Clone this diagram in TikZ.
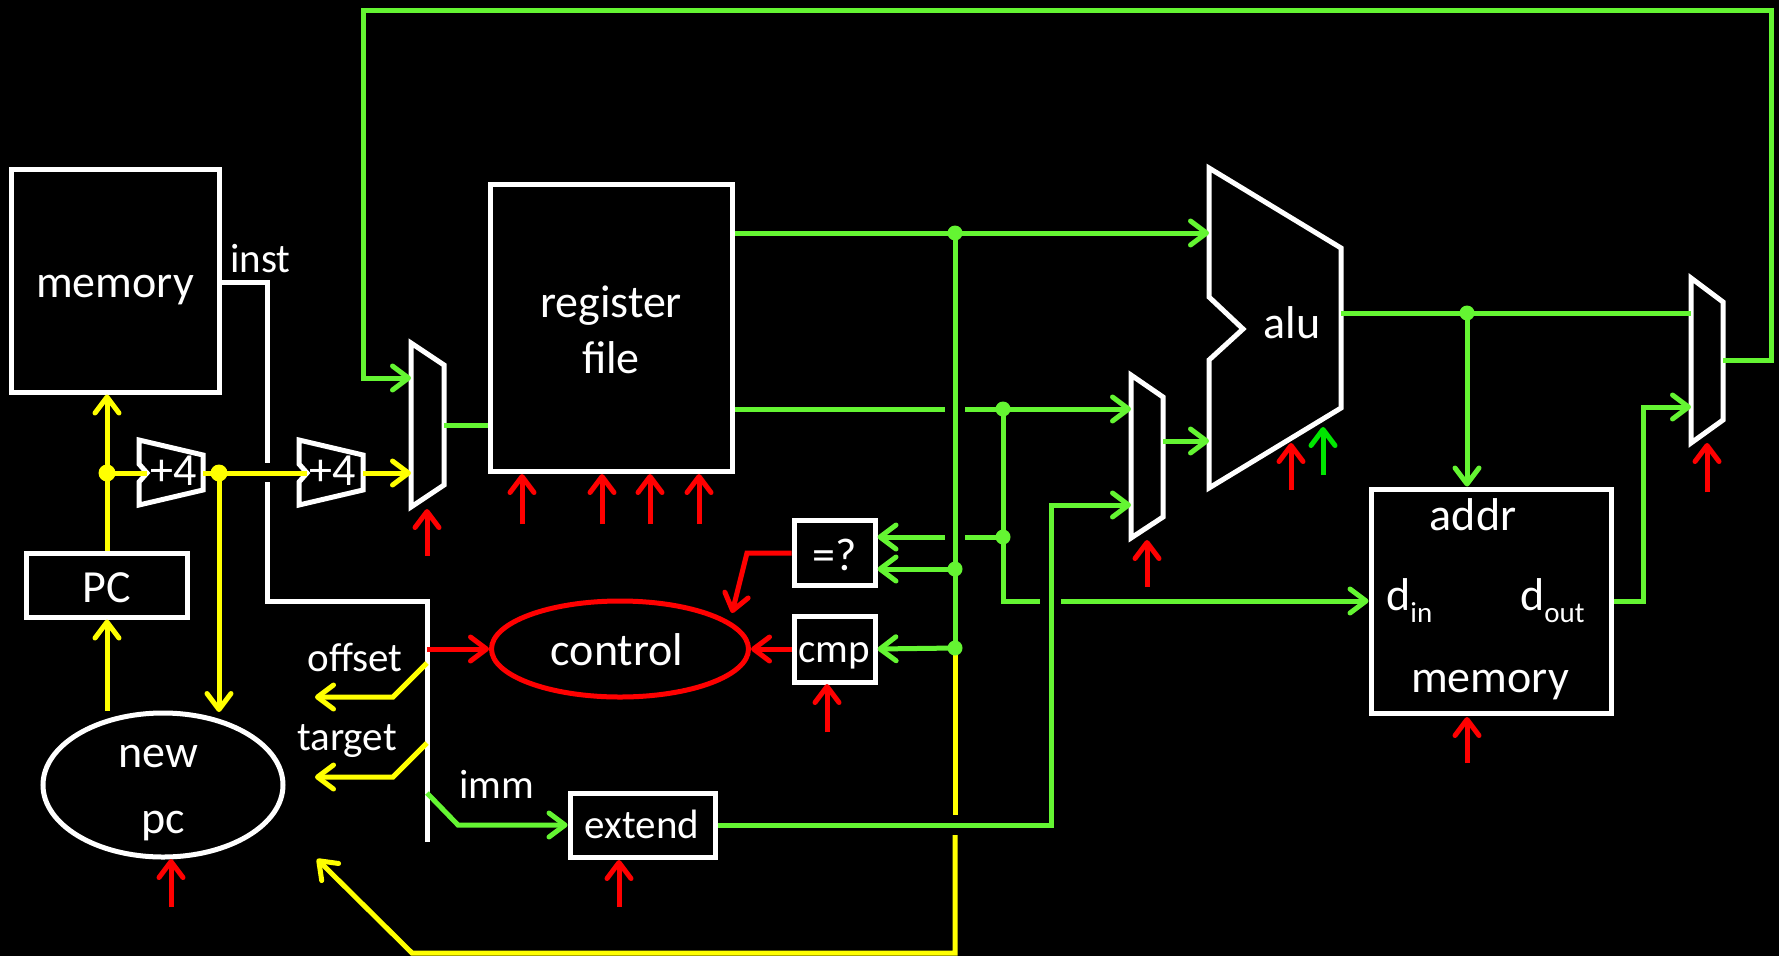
\documentclass[tikz,border=0pt]{standalone}
\usepackage{fontspec}
\setmainfont{Carlito}
\usetikzlibrary{arrows.meta,shapes.geometric}
\definecolor{cgreen}{RGB}{100,245,50}
\definecolor{cyellow}{RGB}{255,255,0}
\definecolor{cred}{RGB}{255,0,0}
\definecolor{cgreenb}{RGB}{0,230,0}
\newcommand\fbig{\fontsize{46}{56}\selectfont}
\newcommand\fsmall{\fontsize{41}{50}\selectfont}
\newcommand\fsubs{\fontsize{29}{34}\selectfont}
\begin{document}
\begin{tikzpicture}[x=1pt,y=-1pt,
  wire/.style={line width=5pt},
  gw/.style={wire,draw=cgreen},
  yw/.style={wire,draw=cyellow},
  rw/.style={wire,draw=cred},
  ww/.style={wire,draw=white},
  arr/.style={-{Straight Barb[length=16pt,width=24pt,round]}},
  box/.style={draw=white,line width=5pt,fill=black,inner sep=0pt,rectangle},
  shp/.style={draw=white,line width=5pt,fill=black,line join=miter},
  lbl/.style={text=white,anchor=base,inner sep=0pt,font=\fbig},
  slbl/.style={lbl,font=\fsmall},
  gdot/.style={circle,fill=cgreen,inner sep=0pt,minimum size=15pt},
  ydot/.style={circle,fill=cyellow,inner sep=0pt,minimum size=17pt},
]
\fill[black] (0,0) rectangle (1779,956);
\useasboundingbox (0,0) rectangle (1779,956);

% ---------- blocks ----------
\node[box,minimum width=208pt,minimum height=223pt] (imem) at (115,280.5) {};
\node[lbl] (imemt) at (115,297) {memory};
\node[box,minimum width=161pt,minimum height=64pt] (pc) at (107,585) {};
\node[lbl] (pct) at (107,602) {PC};
\node[draw=white,line width=5pt,ellipse,inner sep=0pt,minimum width=240pt,minimum height=144pt] (npc) at (163,785) {};
\node[lbl] (npct1) at (158,767) {new};
\node[lbl] (npct2) at (163,833) {pc};
\node[box,minimum width=242pt,minimum height=287pt] (rf) at (611,327.5) {};
\node[lbl] (rft1) at (611,317) {register};
\node[lbl] (rft2) at (611,373) {file};
\node[box,minimum width=81pt,minimum height=65pt] (eq) at (834.5,552.5) {};
\node[lbl] (eqt) at (835,570) {=?};
\node[box,minimum width=81pt,minimum height=66pt] (cmp) at (834.5,649) {};
\node[slbl] (cmpt) at (834,662) {cmp};
\node[box,minimum width=145pt,minimum height=64pt] (ext) at (642.5,825) {};
\node[slbl] (extt) at (642,838) {extend};
\node[draw=cred,line width=5pt,ellipse,inner sep=0pt,minimum width=257pt,minimum height=96pt] (ctl) at (620,649) {};
\node[lbl] (ctlt) at (617,665) {control};
\node[box,minimum width=240pt,minimum height=224pt] (dmem) at (1491,601) {};
\node[lbl] (addrt) at (1473,530) {addr};
\node[lbl,anchor=base west] (dint) at (1386,610) {d\raisebox{-12pt}{\fsubs in}};
\node[lbl,anchor=base west] (doutt) at (1520,610) {d\raisebox{-12pt}{\fsubs out}};
\node[lbl] (dmemt) at (1490,692) {memory};

% adders
\draw[shp] (139,440) -- (203,455) -- (203,490) -- (139,505) -- (139,482) -- (147,473) -- (139,464) -- cycle;
\node[lbl] (add1t) at (174,485) {+4};
\draw[shp] (299,440) -- (363,455) -- (363,490) -- (299,505) -- (299,482) -- (307,473) -- (299,464) -- cycle;
\node[lbl] (add2t) at (333,485) {+4};
% muxes
\draw[shp] (411,343) -- (444,365) -- (444,485) -- (411,507) -- cycle;
\draw[shp] (1131,375) -- (1163,397) -- (1163,517) -- (1131,538) -- cycle;
\draw[shp] (1691,278) -- (1723,302) -- (1723,420) -- (1691,443) -- cycle;
% alu
\draw[shp] (1209,168) -- (1341,248) -- (1341,408) -- (1209,488) -- (1209,360) -- (1243,329) -- (1209,297) -- cycle;
\node[lbl] (alut) at (1292,338) {alu};

% labels
\node[slbl,anchor=base west] (instt) at (230,272) {inst};
\node[slbl] (offt) at (355,671) {offset};
\node[slbl] (tgtt) at (347,750) {target};
\node[slbl] (immt) at (497,798) {imm};

% ---------- coordinates ----------
\coordinate (m1a) at (411,378);
\coordinate (m1b) at (411,473);
\coordinate (m1o) at (444,425);
\coordinate (m2a) at (1131,409);
\coordinate (m2b) at (1131,505);
\coordinate (m2o) at (1163,441);
\coordinate (m3a) at (1691,313);
\coordinate (m3b) at (1691,407);
\coordinate (m3o) at (1723,360);
\coordinate (alua) at (1209,233);
\coordinate (alub) at (1209,441);
\coordinate (aluo) at (1341,313);

% ---------- white instruction bus ----------
\draw[ww,line join=miter] (imem.east |- 0,282) -- (267,282) -- (267,463);
\draw[ww,line join=miter] (267,482) -- (267,601) -- (427,601) -- (427,842);

% ---------- yellow ----------
\draw[yw,arr] (pc.north) -- (pc.north |- imem.south);
\draw[yw] (107,473) -- (147,473);
\draw[yw] (203,473) -- (307,473);
\draw[yw,arr] (363,473) -- (m1b);
\draw[yw,arr] (219,473) -- (219,712);
\draw[yw,arr] (npc.north -| pc.south) -- (pc.south);
\draw[yw,arr,line join=miter] (427,663) -- (393,697) -- (315,697);
\draw[yw,arr,line join=miter] (427,743) -- (393,777) -- (315,777);
\draw[yw] (955,655) -- (955,815);
\draw[yw,arr,line join=miter] (955,835) -- (955,953) -- (412,953) -- (317,859);
\node[ydot] (yd1) at (107,473) {};
\node[ydot] (yd2) at (219,473) {};

% ---------- green ----------
\draw[gw,arr,line join=miter] (m3o) -- (1771,360) -- (1771,10) -- (363,10) -- (363,378) -- (m1a);
\draw[gw] (m1o) -- (rf.west |- m1o);
\draw[gw,arr] (rf.east |- alua) -- (alua);
\draw[gw] (955,233) -- (955,655);
\draw[gw,arr] (955,569) -- (eq.east |- 955,569);
\draw[gw,arr] (955,648) -- (cmp.east);
\draw[gw] (rf.east |- m2a) -- (945,409);
\draw[gw,arr] (965,409) -- (m2a);
\draw[gw] (1003,537) -- (965,537);
\draw[gw,arr] (945,537) -- (eq.east |- 945,537);
\draw[gw,line join=miter] (1003,409) -- (1003,601) -- (1040,601);
\draw[gw,arr] (1061,601) -- (dmem.west);
\draw[gw,arr,line join=miter] (427,793) -- (458,825) -- (ext.west);
\draw[gw,arr,line join=miter] (ext.east) -- (1051,825) -- (1051,505) -- (m2b);
\draw[gw,arr] (m2o) -- (alub);
\draw[gw] (aluo) -- (m3a);
\draw[gw,arr] (1467,313) -- (dmem.north -| 1467,0);
\draw[gw,arr,line join=miter] (dmem.east) -- (1643,601) -- (1643,407) -- (m3b);
\node[gdot] (gd1) at (955,233) {};
\node[gdot] (gd2) at (1003,409) {};
\node[gdot] (gd3) at (1003,537) {};
\node[gdot] (gd4) at (955,569) {};
\node[gdot] (gd5) at (955,648) {};
\node[gdot] (gd6) at (1467,313) {};

% ---------- red control ----------
\draw[rw,arr] (427,649) -- (ctl.west);
\draw[rw,arr] (cmp.west) -- (ctl.east);
\draw[rw,arr,line join=miter] (eq.west |- 0,553) -- (747,553) -- (732,613);
\draw[rw,arr] (427,556) -- (427,509);
\foreach \xx in {522,602,650,699} \draw[rw,arr] (\xx,524) -- (\xx,474);
\draw[rw,arr] (827,732) -- (827,684);
\draw[rw,arr] (619,907) -- (619,860);
\draw[rw,arr] (171,907) -- (171,859);
\draw[rw,arr] (1147,587) -- (1147,540);
\draw[rw,arr] (1291,490) -- (1291,443);
\draw[wire,draw=cgreenb,arr] (1323,475) -- (1323,427);
\draw[rw,arr] (1707,492) -- (1707,443);
\draw[rw,arr] (1467,763) -- (1467,717);
\end{tikzpicture}
\end{document}
